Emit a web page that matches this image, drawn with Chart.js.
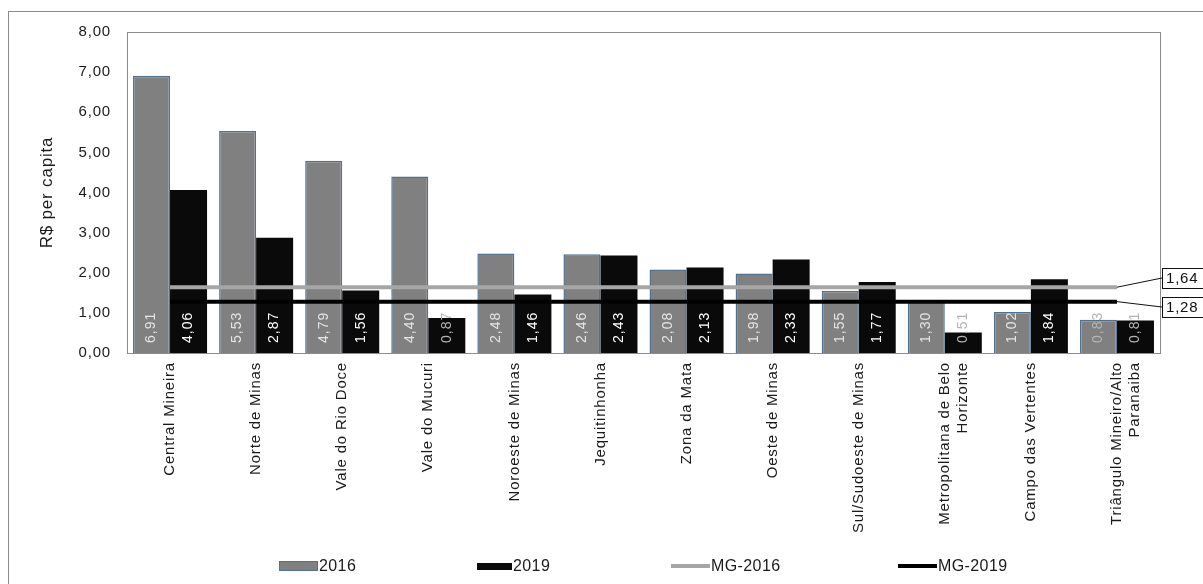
<!DOCTYPE html>
<html>
<head>
<meta charset="utf-8">
<script src="https://cdn.jsdelivr.net/npm/chart.js@4.4.1/dist/chart.umd.min.js"></script>
<style>
  body { margin: 0; background: #fff; font-family: "Liberation Sans", Arial, sans-serif; }
  #wrap { position: relative; width: 1203px; height: 584px; overflow: hidden; }
  #frame { position: absolute; left: 8px; top: 11px; width: 1230px; height: 610px; border: 1px solid #8c8c8c; }
  canvas { position: absolute; left: 0; top: 0; }
  .item { position: absolute; top: 557px; height: 18px; display: flex; align-items: center; font-size: 16px; letter-spacing: 0.4px; color: #1a1a1a; }
  .item i { display: inline-block; margin-right: 1px; }
</style>
</head>
<body>
<div id="wrap">
  <div id="frame"></div>
  <canvas id="chart" width="1203" height="584"></canvas>
  <div id="legend"></div>
</div>
<script>
const regions = [
  "Central Mineira", "Norte de Minas", "Vale do Rio Doce", "Vale do Mucuri",
  "Noroeste de Minas", "Jequitinhonha", "Zona da Mata", "Oeste de Minas",
  "Sul/Sudoeste de Minas", ["Metropolitana de Belo", "Horizonte"],
  "Campo das Vertentes", ["Triângulo Mineiro/Alto", "Paranaiba"],
];
const values2016 = [6.91, 5.53, 4.79, 4.40, 2.48, 2.46, 2.08, 1.98, 1.55, 1.30, 1.02, 0.83];
const values2019 = [4.06, 2.87, 1.56, 0.87, 1.46, 2.43, 2.13, 2.33, 1.77, 0.51, 1.84, 0.81];
const mg2016 = [1.64, 1.64, 1.64, 1.64, 1.64, 1.64, 1.64, 1.64, 1.64, 1.64, 1.64, 1.64];
const mg2019 = [1.28, 1.28, 1.28, 1.28, 1.28, 1.28, 1.28, 1.28, 1.28, 1.28, 1.28, 1.28];

const FONT = '"Liberation Sans", Arial, sans-serif';
const fmt = (v) => Number(v).toFixed(2).replace(".", ",");

/* slightly looser lettering for everything drawn on the canvas */
const spacing = {
  id: "spacing",
  beforeDraw(chart) {
    chart.ctx.letterSpacing = "0.8px";
  },
};

/* plot frame */
const frameBox = {
  id: "frameBox",
  beforeDatasetsDraw(chart) {
    const { ctx, chartArea: a } = chart;
    ctx.save();
    ctx.strokeStyle = "#8c8c8c";
    ctx.lineWidth = 1;
    ctx.strokeRect(Math.round(a.left) + 0.5, Math.round(a.top) + 0.5, a.right - a.left, a.bottom - a.top);
    ctx.restore();
  },
};

/* values written upright inside the bars */
const barValues = {
  id: "barValues",
  afterDatasetsDraw(chart) {
    const ctx = chart.ctx;
    ctx.save();
    ctx.font = "14px " + FONT;
    ctx.letterSpacing = "1px";
    ctx.textAlign = "left";
    ctx.textBaseline = "middle";
    [0, 1].forEach((di) => {
      chart.getDatasetMeta(di).data.forEach((bar, i) => {
        const txt = fmt(chart.data.datasets[di].data[i]);
        // labels that run past the top of a short bar get a grey ink
        const overflow = ctx.measureText(txt).width + 10 > bar.base - bar.y + 6;
        ctx.save();
        ctx.translate(bar.x, bar.base - 10);
        ctx.rotate(-Math.PI / 2);
        ctx.fillStyle = overflow ? "#b4b4b4" : di === 0 ? "#e4e4e4" : "#ffffff";
        ctx.fillText(txt, 0, 0);
        ctx.restore();
      });
    });
    ctx.restore();
  },
};

/* boxed state averages at the right end of the lines */
const mgTags = {
  id: "mgTags",
  afterDraw(chart) {
    const ctx = chart.ctx;
    const right = chart.chartArea.right;
    ctx.save();
    ctx.font = "15px " + FONT;
    ctx.letterSpacing = "0.8px";
    ctx.textBaseline = "middle";
    [[2, -9], [3, 5]].forEach(([di, off]) => {
      const pts = chart.getDatasetMeta(di).data;
      const end = pts[pts.length - 1];
      const v = chart.data.datasets[di].data[pts.length - 1];
      const bx = Math.round(right) + 2;
      const by = Math.round(end.y + off);
      ctx.strokeStyle = "#111";
      ctx.lineWidth = 1;
      ctx.beginPath();
      ctx.moveTo(end.x, end.y);
      ctx.lineTo(bx, by);
      ctx.stroke();
      ctx.fillStyle = "#fff";
      ctx.fillRect(bx, by - 10, 50, 20);
      ctx.strokeRect(bx + 0.5, by - 10 + 0.5, 50, 20);
      ctx.fillStyle = "#111";
      ctx.fillText(fmt(v), bx + 4, by + 1);
    });
    ctx.restore();
  },
};

new Chart(document.getElementById("chart"), {
  type: "bar",
  data: {
    labels: regions,
    datasets: [
      { label: "2016", data: values2016, backgroundColor: "#808080", borderColor: "#52718f", borderWidth: 1.5, order: 2 },
      { label: "2019", data: values2019, backgroundColor: "#0a0a0a", order: 2 },
      { type: "line", label: "MG-2016", data: mg2016, borderColor: "#a6a6a6", borderWidth: 4, pointRadius: 0, order: 1 },
      { type: "line", label: "MG-2019", data: mg2019, borderColor: "#000", borderWidth: 4, pointRadius: 0, order: 0 },
    ],
  },
  options: {
    responsive: false,
    animation: false,
    layout: { padding: { left: 0, top: 32, right: 43, bottom: 0 } },
    datasets: { bar: { categoryPercentage: 0.86, barPercentage: 1 } },
    plugins: { legend: { display: false }, tooltip: { enabled: false } },
    scales: {
      x: {
        grid: { display: false, drawTicks: false },
        border: { color: "#8c8c8c" },
        ticks: { autoSkip: false, minRotation: 90, maxRotation: 90, padding: 9, color: "#1a1a1a", font: { family: FONT, size: 15 } },
        afterFit: (s) => { s.height = 231; },
      },
      y: {
        min: 0,
        max: 8,
        grid: { display: false, drawTicks: false },
        border: { color: "#8c8c8c" },
        ticks: { stepSize: 1, padding: 16, color: "#1a1a1a", font: { family: FONT, size: 15 }, callback: (v) => fmt(v) },
        title: { display: true, text: "R$ per capita", color: "#1a1a1a", font: { family: FONT, size: 17 }, padding: { top: 37, bottom: 0 } },
        afterFit: (s) => { s.width = 127; },
      },
    },
  },
  plugins: [spacing, frameBox, barValues, mgTags],
});

/* legend */
const legendItems = [
  { text: "2016", left: 279, w: 37, h: 8, bg: "#808080", border: "1px solid #52718f" },
  { text: "2019", left: 477, w: 35, h: 7, bg: "#0a0a0a", border: "none" },
  { text: "MG-2016", left: 671, w: 39, h: 4, bg: "#a6a6a6", border: "none" },
  { text: "MG-2019", left: 898, w: 39, h: 4, bg: "#000", border: "none" },
];
document.getElementById("legend").innerHTML = legendItems
  .map((l) => `<div class="item" style="left:${l.left}px"><i style="width:${l.w}px;height:${l.h}px;background:${l.bg};border:${l.border}"></i>${l.text}</div>`)
  .join("");
</script>
</body>
</html>
